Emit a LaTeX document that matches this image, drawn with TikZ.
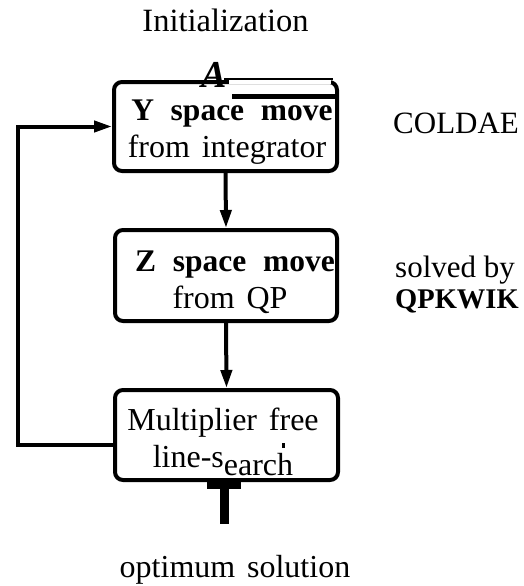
\documentclass[tikz,border=0pt]{standalone}
\usepackage{fontspec}
\setmainfont{Liberation Serif}
\usetikzlibrary{arrows.meta,calc}
\begin{document}
\begin{tikzpicture}[x=1pt,y=-1pt,
  box/.style={draw,line width=4pt,rounded corners=8pt,inner sep=0pt},
  txt/.style={anchor=base,inner sep=0pt,font=\fontsize{32}{36}\selectfont},
  btxt/.style={anchor=base,inner sep=0pt,font=\fontsize{31.5}{36}\selectfont\bfseries},
  link/.style={line width=4pt,line join=miter,-{Triangle[length=18pt,width=11pt]}},
]
\useasboundingbox (0,0) rectangle (523,586);
\newcommand{\gap}{\hspace{0.28em}}
\newcommand{\sgap}{\hspace{0.12em}}

% the three stages
\node[box,minimum width=223pt,minimum height=89pt] (b1) at (225.5,126.5) {};
\node[box,minimum width=222pt,minimum height=91pt] (b2) at (226,275.5) {};
\node[box,minimum width=223pt,minimum height=90pt] (b3) at (226.5,435) {};

% broken top edge of the first box
\fill[white] (229,76) rectangle (331,84);
\draw[line width=1.3pt] (224,79) -- (333,79);
\fill (232,94) rectangle (335,99);

% texts of the boxes
\node[btxt] (y1) at (232,120) {Y \gap space \gap move};
\node[txt] (y2) at (227,157) {from \sgap integrator};
\node[btxt] (z1) at (235,271) {Z \gap space \gap move};
\node[txt] (z2) at (230,308) {from \sgap QP};
\node[txt] (m1) at (223,430) {Multiplier \sgap free};
\node[txt] (m2) at (223,467) {line-s\raisebox{-8pt}{earch}};
\fill (282,443) rectangle (284.5,448);

% labels outside
\node[txt,font=\fontsize{32.5}{36}\selectfont] (init) at (225.5,32) {Initialization};
\node[anchor=base west,inner sep=0pt,font=\fontsize{38}{40}\selectfont\bfseries\itshape] (amark) at (201,88) {A};
\node[anchor=base west,inner sep=0pt,font=\fontsize{31}{36}\selectfont] (col) at (393,133) {COLDAE};
\node[anchor=base west,inner sep=0pt,font=\fontsize{31}{36}\selectfont] (sb) at (395,277) {solved by};
\node[anchor=base west,inner sep=0pt,font=\fontsize{28.5}{36}\selectfont\bfseries] (qp) at (395,308) {QPKWIK};
\node[txt] (opt) at (235,577) {optimum \sgap solution};

% connectors
\draw[link] (b1.south) -- (b2.north);
\draw[link] (b2.south) -- (b3.north);
\coordinate (c1) at (18,445);
\coordinate (c2) at (18,126.5);
\draw[link] (b3.west |- c1) -- (c1) -- (c2) -- (b1.west);

% output stub
\coordinate (out) at (224.5,524);
\fill (207,482) rectangle (241,489);
\draw[line width=9pt] (out |- b3.south) -- (out);
\end{tikzpicture}
\end{document}
